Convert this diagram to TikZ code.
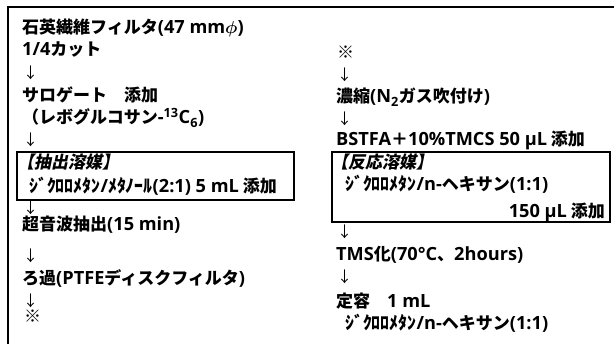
\documentclass[tikz,border=0pt]{standalone}
\usepackage{amsmath}
\usepackage{fontspec}
\setmainfont{Noto Sans CJK JP}
\newfontfamily\jpsl{Noto Sans CJK JP}[FakeSlant=0.2]
\newfontfamily\latf{Open Sans}[Scale=1.07]
\newfontfamily\hwf{Noto Sans CJK JP}[Scale=1.05]
\newcommand{\lt}[1]{{\latf #1}}
\newcommand{\hw}[1]{{\hwf #1}}
\begin{document}
\begin{tikzpicture}[x=1pt,y=-1pt,
  txt/.style={anchor=base west,inner sep=0pt,font=\fontsize{17}{18}\selectfont\bfseries},
  arr/.style={anchor=base west,inner sep=0pt,font=\fontsize{15}{18}\selectfont},
  frame/.style={line width=1.3pt},
  boxline/.style={line width=1.6pt}]
\useasboundingbox (0,0) rectangle (614,344);
\fill[white] (0,0) rectangle (614,344);
\draw[frame] (8,344) -- (8,7) -- (614,7);
% left column
\node[txt] (a1) at (22,34) {石英繊維フィルタ\lt{(47 mm}$\boldsymbol{\phi}$\lt{)}};
\node[txt] (a2) at (22,56) {\lt{1/4}カット};
\node[arr] (a3) at (23,79) {↓};
\node[txt] (a4) at (22,102) {サロゲート　添加};
\node[txt] (a5) at (22,124) {（レボグルコサン\lt{-\textsuperscript{13}C\textsubscript{6})}};
\node[arr] (a6) at (23,146) {↓};
\draw[boxline] (17,152) rectangle (294,200);
\node[txt,font=\fontsize{17}{18}\selectfont\jpsl\bfseries] (a7) at (17,169) {【抽出溶媒】};
\node[txt] (a8) at (29,193) {\hw{ｼﾞｸﾛﾛﾒﾀﾝ\lt{/}ﾒﾀﾉｰﾙ}\lt{(2:1) 5 mL} 添加};
\node[arr] (a9) at (23,214) {↓};
\node[txt] (a10) at (22,231) {超音波抽出\lt{(15 min)}};
\node[arr] (a11) at (23,262) {↓};
\node[txt] (a12) at (22,285) {ろ過\lt{(PTFE}ディスクフィルタ\lt{)}};
\node[arr] (a13) at (23,307) {↓};
\node[txt] (a14) at (24,323) {※};
% right column
\node[txt] (b1) at (337,59) {※};
\node[arr] (b2) at (337,81) {↓};
\node[txt] (b3) at (336,103) {濃縮\lt{(N\textsubscript{2}}ガス吹付け\lt{)}};
\node[arr] (b4) at (337,125) {↓};
\node[txt] (b5) at (336,146) {\lt{BSTFA}＋\lt{10\%TMCS 50 µL} 添加};
\draw[boxline] (332,152) rectangle (610,222);
\node[txt,font=\fontsize{17}{18}\selectfont\jpsl\bfseries] (b6) at (331,169) {【反応溶媒】};
\node[txt] (b7) at (345,191) {\hw{ｼﾞｸﾛﾛﾒﾀﾝ\lt{/}}\lt{n-}ヘキサン\lt{(1:1)}};
\node[txt,anchor=base east] (b8) at (605,218) {\lt{150 µL} 添加};
\node[arr] (b9) at (337,238) {↓};
\node[txt] (b10) at (336,261) {\lt{TMS}化\lt{(70°C}、\lt{2hours)}};
\node[arr] (b11) at (337,283) {↓};
\node[txt] (b12) at (336,308) {定容　\lt{1 mL}};
\node[txt] (b13) at (345,330) {\hw{ｼﾞｸﾛﾛﾒﾀﾝ\lt{/}}\lt{n-}ヘキサン\lt{(1:1)}};
\end{tikzpicture}
\end{document}
